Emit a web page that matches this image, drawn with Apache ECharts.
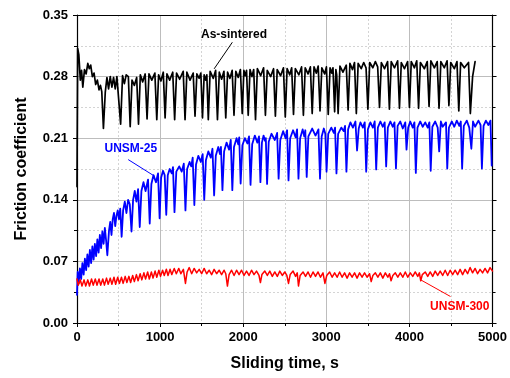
<!DOCTYPE html>
<html><head><meta charset="utf-8">
<script src="https://cdn.jsdelivr.net/npm/echarts@6/dist/echarts.min.js"></script>
<style>html,body{margin:0;padding:0;background:#fff}#c{width:510px;height:378px}</style>
</head><body><div id="c"></div>
<script>
// ---- data ----
const xTickValues = [0, 1000, 2000, 3000, 4000, 5000];
const yTickValues = [0.00, 0.07, 0.14, 0.21, 0.28, 0.35];

const asSintered = [
[0,0.155],[8,0.312],[22,0.305],[40,0.276],[55,0.287],[70,0.268],[90,0.288],[110,0.283],[130,0.295],[148,0.289],[165,0.293],[185,0.28],[205,0.284],[225,0.271],[245,0.276],[265,0.265],[282,0.27],[298,0.263],
[318,0.221],[340,0.262],[360,0.279],[380,0.266],[400,0.28],[420,0.268],[440,0.279],[460,0.266],[480,0.28],[503,0.279],
[525,0.226],[548,0.281],[570,0.272],[592,0.282],[618,0.28],
[640,0.223],[662,0.276],[690,0.27],[718,0.279],
[740,0.226],[762,0.282],[790,0.274],[820,0.283],
[843,0.232],[866,0.283],[900,0.276],[937,0.284],
[960,0.231],[982,0.282],[1010,0.275],[1038,0.285],
[1060,0.233],[1082,0.283],[1115,0.276],[1152,0.285],
[1175,0.231],[1198,0.284],[1235,0.277],[1278,0.286],
[1300,0.231],[1322,0.285],[1360,0.276],[1398,0.284],
[1420,0.235],[1442,0.283],[1470,0.278],[1490,0.284],
[1510,0.233],[1530,0.282],[1548,0.276],[1562,0.282],
[1580,0.231],[1602,0.286],[1640,0.278],[1668,0.287],
[1690,0.231],[1712,0.285],[1740,0.277],[1768,0.286],
[1790,0.233],[1812,0.285],[1840,0.278],[1867,0.287],
[1889,0.236],[1911,0.286],[1940,0.279],[1966,0.288],
[1988,0.238],[2008,0.287],[2025,0.281],[2040,0.287],
[2060,0.236],[2082,0.288],[2105,0.28],[2126,0.288],
[2148,0.231],[2170,0.289],[2210,0.281],[2245,0.29],
[2267,0.236],[2289,0.287],[2330,0.28],[2365,0.289],
[2387,0.235],[2409,0.288],[2450,0.281],[2484,0.29],
[2506,0.234],[2528,0.289],[2560,0.282],[2583,0.29],
[2605,0.237],[2627,0.289],[2670,0.282],[2702,0.291],
[2724,0.236],[2746,0.29],[2780,0.283],[2808,0.291],
[2830,0.238],[2852,0.291],[2880,0.284],[2902,0.292],
[2924,0.241],[2946,0.29],[2980,0.283],[3001,0.291],
[3023,0.237],[3045,0.29],[3065,0.284],[3080,0.29],
[3100,0.24],[3115,0.288],[3125,0.282],
[3142,0.238],[3164,0.292],[3200,0.285],[3240,0.293],
[3262,0.242],[3284,0.295],[3315,0.288],[3339,0.296],
[3361,0.238],[3383,0.295],[3420,0.289],[3450,0.296],[3478,0.29],
[3500,0.243],[3522,0.296],[3560,0.29],[3590,0.297],[3618,0.291],
[3640,0.245],[3662,0.296],[3700,0.289],[3737,0.297],
[3759,0.243],[3781,0.297],[3820,0.29],[3858,0.298],
[3880,0.244],[3902,0.296],[3940,0.289],[3978,0.297],
[4000,0.245],[4022,0.297],[4060,0.29],[4088,0.298],
[4110,0.244],[4132,0.296],[4180,0.289],[4214,0.297],
[4236,0.246],[4258,0.298],[4300,0.29],[4334,0.297],
[4356,0.244],[4378,0.297],[4420,0.29],[4453,0.298],
[4475,0.247],[4497,0.296],[4540,0.289],[4572,0.297],
[4594,0.241],[4616,0.296],[4660,0.29],[4711,0.296],
[4733,0.238],[4760,0.28],[4790,0.297]
];

const unsm25 = [
[0,0.032],[8,0.058],[20,0.045],[35,0.062],[50,0.05],[65,0.068],[80,0.055],[95,0.073],[110,0.06],[125,0.078],[140,0.064],[155,0.083],[170,0.068],[185,0.087],[200,0.072],[215,0.09],[230,0.076],[245,0.095],[260,0.08],[275,0.1],[290,0.085],[305,0.104],[320,0.09],[335,0.108],
[350,0.094],[365,0.077],[385,0.105],[400,0.115],[415,0.1],[430,0.118],[445,0.125],[460,0.11],[475,0.122],[490,0.128],[505,0.118],[520,0.13],
[537,0.098],[555,0.128],[575,0.138],[595,0.125],[615,0.14],[635,0.135],
[656,0.104],[675,0.14],[695,0.15],[715,0.138],[735,0.152],
[755,0.109],[775,0.15],[800,0.16],[825,0.15],[855,0.163],
[875,0.113],[895,0.158],[920,0.168],[950,0.16],[975,0.17],
[994,0.119],[1012,0.165],[1035,0.173],[1055,0.168],
[1074,0.123],[1092,0.168],[1115,0.175],[1140,0.17],[1155,0.177],
[1173,0.126],[1195,0.172],[1230,0.178],[1260,0.172],[1285,0.181],
[1305,0.128],[1325,0.175],[1355,0.183],[1375,0.178],[1392,0.188],
[1412,0.134],[1432,0.18],[1460,0.19],[1490,0.183],[1512,0.192],
[1531,0.14],[1551,0.185],[1580,0.195],[1610,0.188],[1630,0.198],
[1650,0.145],[1670,0.19],[1700,0.2],[1720,0.192],[1732,0.2],
[1750,0.151],[1770,0.195],[1800,0.205],[1830,0.197],[1850,0.208],
[1869,0.151],[1889,0.2],[1920,0.21],[1940,0.203],[1952,0.211],
[1969,0.1585],[1990,0.202],[2020,0.21],[2050,0.204],[2070,0.212],
[2088,0.157],[2108,0.203],[2140,0.213],[2170,0.205],[2190,0.212],
[2207,0.16],[2225,0.205],[2245,0.213],[2262,0.207],[2272,0.21],
[2287,0.158],[2307,0.206],[2340,0.215],[2380,0.208],[2408,0.216],
[2426,0.164],[2446,0.208],[2480,0.218],[2510,0.21],[2528,0.219],
[2545,0.162],[2565,0.21],[2600,0.219],[2630,0.211],[2648,0.22],
[2665,0.164],[2685,0.21],[2715,0.22],[2735,0.212],[2747,0.219],
[2764,0.166],[2784,0.212],[2830,0.221],[2870,0.213],[2905,0.22],
[2924,0.164],[2944,0.212],[2970,0.221],[2988,0.215],
[3003,0.172],[3023,0.215],[3060,0.222],[3090,0.216],[3105,0.222],
[3122,0.17],[3142,0.215],[3180,0.222],[3210,0.218],[3225,0.224],
[3242,0.172],[3262,0.22],[3290,0.228],[3320,0.222],[3350,0.229],[3370,0.196],[3390,0.221],[3410,0.228],[3440,0.222],[3462,0.228],
[3480,0.172],[3500,0.22],[3530,0.228],[3560,0.222],[3582,0.229],
[3600,0.1745],[3620,0.222],[3650,0.229],[3680,0.223],[3702,0.228],
[3720,0.178],[3740,0.222],[3770,0.229],[3800,0.223],[3820,0.228],
[3838,0.1755],[3858,0.224],[3890,0.229],[3920,0.221],[3950,0.228],[3965,0.197],[3985,0.222],[4010,0.229],[4040,0.222],[4060,0.228],
[4077,0.1705],[4097,0.222],[4130,0.229],[4160,0.223],[4190,0.228],[4220,0.222],[4240,0.228],
[4256,0.173],[4276,0.223],[4310,0.229],[4340,0.222],[4358,0.195],[4378,0.229],[4400,0.223],[4440,0.228],
[4455,0.1755],[4475,0.222],[4510,0.229],[4540,0.223],[4570,0.23],[4600,0.224],[4618,0.229],
[4634,0.1755],[4654,0.224],[4690,0.23],[4720,0.222],[4745,0.198],[4765,0.229],[4790,0.223],[4830,0.23],[4856,0.225],
[4872,0.1755],[4892,0.224],[4920,0.23],[4950,0.225],[4975,0.23],[4990,0.179]
];

const unsm300 = [
[0,0.05],[15,0.043],[40,0.049],[60,0.042],[85,0.049],[105,0.042],[130,0.049],[150,0.042],[175,0.05],[195,0.043],[220,0.05],[240,0.043],[265,0.05],[285,0.043],[310,0.05],[330,0.043],[355,0.051],[375,0.044],[400,0.051],[420,0.044],[445,0.052],[465,0.044],[490,0.052],[510,0.045],[535,0.052],[555,0.045],[580,0.053],[600,0.046],[625,0.053],[645,0.046],[670,0.054],[690,0.047],[715,0.055],[735,0.048],[760,0.056],[780,0.049],[805,0.057],[825,0.05],[850,0.058],[870,0.05],[895,0.058],[915,0.051],[940,0.059],[960,0.052],[985,0.06],[1005,0.053],[1030,0.06],[1050,0.054],[1075,0.061],[1095,0.054],[1120,0.061],[1140,0.055],[1170,0.062],[1195,0.056],[1225,0.062],[1250,0.056],[1280,0.061],[1305,0.045],[1325,0.058],[1350,0.063],[1380,0.056],[1410,0.062],[1440,0.057],[1470,0.061],[1500,0.056],[1530,0.062],[1560,0.056],[1590,0.06],[1620,0.055],[1650,0.061],[1680,0.056],[1710,0.06],[1740,0.055],[1770,0.06],[1790,0.056],[1810,0.042],[1830,0.055],[1860,0.06],[1890,0.054],[1920,0.06],[1950,0.055],[1980,0.06],[2010,0.054],[2040,0.059],[2070,0.054],[2100,0.06],[2130,0.055],[2160,0.059],[2190,0.054],[2207,0.046],[2225,0.055],[2260,0.059],[2290,0.054],[2320,0.059],[2350,0.053],[2380,0.058],[2410,0.053],[2440,0.059],[2470,0.054],[2500,0.058],[2525,0.054],[2545,0.045],[2565,0.055],[2600,0.059],[2630,0.053],[2650,0.057],[2665,0.042],[2685,0.054],[2720,0.058],[2750,0.053],[2780,0.058],[2810,0.052],[2840,0.058],[2870,0.053],[2900,0.058],[2930,0.052],[2960,0.057],[2983,0.045],[3005,0.054],[3040,0.058],[3070,0.052],[3100,0.057],[3130,0.052],[3160,0.058],[3190,0.052],[3220,0.057],[3250,0.051],[3280,0.057],[3310,0.052],[3340,0.057],[3370,0.051],[3400,0.057],[3430,0.052],[3460,0.057],[3490,0.052],[3520,0.056],[3540,0.047],[3560,0.054],[3590,0.057],[3620,0.052],[3650,0.057],[3680,0.051],[3710,0.057],[3740,0.052],[3760,0.056],[3779,0.048],[3800,0.054],[3830,0.057],[3860,0.052],[3890,0.057],[3920,0.052],[3950,0.058],[3980,0.052],[4010,0.057],[4040,0.053],[4070,0.058],[4100,0.053],[4120,0.057],[4136,0.048],[4155,0.055],[4190,0.058],[4220,0.053],[4250,0.058],[4280,0.053],[4310,0.059],[4340,0.054],[4370,0.059],[4400,0.054],[4430,0.06],[4460,0.054],[4490,0.06],[4520,0.055],[4550,0.06],[4580,0.055],[4610,0.061],[4640,0.055],[4670,0.061],[4700,0.056],[4730,0.063],[4760,0.057],[4790,0.062],[4820,0.056],[4850,0.061],[4880,0.057],[4910,0.062],[4940,0.057],[4970,0.063],[5000,0.059]
];

const seriesNames = ['As-sintered', 'UNSM-25', 'UNSM-300'];
// annotation anchor points (data space): label centre, arrow tail, arrow head
const labelAt = [[1889, 0.3276], [648, 0.198], [4606, 0.0188]];
const arrowFrom = [[1869, 0.319], [616, 0.1857], [4494, 0.0301]];
const arrowTo = [[1650, 0.2888], [934, 0.1668], [4136, 0.049]];

// ---- chart ----
const FONT = "'Liberation Sans', Arial, sans-serif";
const colors = ['#000000', '#0000ff', '#ff0000'];
const chart = echarts.init(document.getElementById('c'), null, {renderer: 'canvas'});

function mkSeries(data, i, w) {
  return {
    name: seriesNames[i], type: 'line', data: data, showSymbol: false, symbol: 'none',
    lineStyle: {color: colors[i], width: w, join: 'round', cap: 'round'}, itemStyle: {color: colors[i]},
    animation: false, silent: true, z: 3,
    markLine: {
      silent: true, symbol: ['none', 'arrow'], symbolSize: [0, 7],
      lineStyle: {color: colors[i], width: 1, type: 'solid'}, label: {show: false},
      animation: false,
      data: [[{coord: arrowFrom[i]}, {coord: arrowTo[i]}]]
    }
  };
}

const axisLineStyle = {color: '#000', width: 1.2};
const option = {
  animation: false,
  backgroundColor: '#fff',
  grid: {left: 77, right: 15, top: 15, bottom: 55, containLabel: false},
  xAxis: [{
    type: 'value', min: 0, max: 5000, interval: 1000,
    name: 'Sliding time, s', nameLocation: 'middle', nameGap: 33,
    nameTextStyle: {fontFamily: FONT, fontSize: 16, fontWeight: 'bold', color: '#000'},
    axisLine: {show: true, onZero: false, lineStyle: axisLineStyle},
    axisTick: {show: true, inside: false, length: 4, lineStyle: {color: '#000'}},
    minorTick: {show: true, splitNumber: 2, length: 3, lineStyle: {color: '#000'}},
    axisLabel: {fontFamily: FONT, fontSize: 13, fontWeight: 'bold', color: '#000', margin: 8,
      formatter: v => xTickValues.includes(v) ? String(v) : ''},
    splitLine: {show: true, lineStyle: {color: '#bdbdbd', width: 1}},
    minorSplitLine: {show: true, lineStyle: {color: '#d4d4d4', width: 1, type: [2, 2]}}
  }, {
    type: 'value', position: 'top', min: 0, max: 5000, interval: 1000,
    axisLine: {show: true, onZero: false, lineStyle: axisLineStyle},
    axisTick: {show: false}, axisLabel: {show: false}, splitLine: {show: false}
  }],
  yAxis: [{
    type: 'value', min: 0, max: 0.35, interval: 0.07,
    name: 'Friction coefficient', nameLocation: 'middle', nameGap: 47, nameRotate: 90,
    nameTextStyle: {fontFamily: FONT, fontSize: 16, fontWeight: 'bold', color: '#000'},
    axisLine: {show: true, onZero: false, lineStyle: axisLineStyle},
    axisTick: {show: true, inside: false, length: 4, lineStyle: {color: '#000'}},
    minorTick: {show: true, splitNumber: 2, length: 3, lineStyle: {color: '#000'}},
    axisLabel: {fontFamily: FONT, fontSize: 13, fontWeight: 'bold', color: '#000', margin: 9,
      formatter: v => {
        const hit = yTickValues.find(t => Math.abs(t - v) < 1e-6);
        return hit === undefined ? '' : hit.toFixed(2);
      }},
    splitLine: {show: true, lineStyle: {color: '#bdbdbd', width: 1}},
    minorSplitLine: {show: true, lineStyle: {color: '#d4d4d4', width: 1, type: [2, 2]}}
  }, {
    type: 'value', position: 'right', min: 0, max: 0.35, interval: 0.07,
    axisLine: {show: true, onZero: false, lineStyle: axisLineStyle},
    axisTick: {show: true, inside: false, length: 4, lineStyle: {color: '#000'}},
    minorTick: {show: true, splitNumber: 2, length: 3, lineStyle: {color: '#000'}},
    axisLabel: {show: false}, splitLine: {show: false}
  }],
  series: [
    mkSeries(asSintered, 0, 1.7),
    mkSeries(unsm25, 1, 1.8),
    mkSeries(unsm300, 2, 1.5)
  ]
};
chart.setOption(option);

const texts = seriesNames.map((name, i) => {
  const p = chart.convertToPixel({gridIndex: 0}, labelAt[i]);
  return {
    type: 'text', x: p[0], y: p[1], z: 10,
    style: {text: name, fill: colors[i], font: "bold 12px " + FONT, align: 'center', verticalAlign: 'middle'}
  };
});
chart.setOption({graphic: texts});
</script></body></html>
